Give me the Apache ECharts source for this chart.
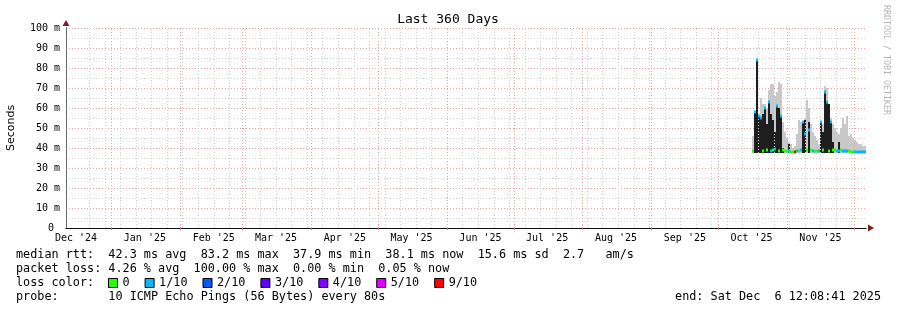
<!DOCTYPE html>
<html><head><meta charset="utf-8">
<script src="https://cdn.jsdelivr.net/npm/echarts@6/dist/echarts.min.js"></script>
<style>html,body{margin:0;padding:0;background:#fff}#c{width:897px;height:310px}</style>
</head><body><div id="c"></div>
<script>
// ---- time range of the graph ----
const rangeStart = Date.UTC(2024, 11, 11, 12, 8, 41);
const rangeEnd = Date.UTC(2025, 11, 6, 12, 8, 41);

// ---- x axis: month tick labels (centred mid-month) ----
const tickLabels = ["Dec '24", "Jan '25", "Feb '25", "Mar '25", "Apr '25", "May '25", "Jun '25", "Jul '25", "Aug '25", "Sep '25", "Oct '25", "Nov '25"];
const tickLabelDates = ['2024-12-16', '2025-01-16', '2025-02-16', '2025-03-16', '2025-04-16', '2025-05-16', '2025-06-16', '2025-07-16', '2025-08-16', '2025-09-16', '2025-10-16', '2025-11-16'];
const monthStarts = ['2025-01-01', '2025-02-01', '2025-03-01', '2025-04-01', '2025-05-01', '2025-06-01', '2025-07-01', '2025-08-01', '2025-09-01', '2025-10-01', '2025-11-01', '2025-12-01'];
const firstWeekLine = '2024-12-22';

// ---- y axis ----
const yTicks = [0, 10, 20, 30, 40, 50, 60, 70, 80, 90, 100]; // ms

// ---- samples (one every 21.6 h from mid October 2025) ----
const firstSampleTime = Date.UTC(2025, 9, 16, 5, 0, 0);
const sampleStepHours = 21.6;
const smokeBase = 37.6; // ms, bottom of the smoke
const smokeTop = [46, 47, 50, 52, 65, 62, 62, 60, 69, 72, 72, 66, 68, 73, 72, 53, 48, 45, 43, 42,
  40, 41, 47, 54, 53, 50, 55, 64, 60, 52, 48, 46, 44, 42, 44, 52, 71, 70, 60, 55,
  52, 50, 48, 47, 50, 55, 52, 56, 46, 47, 45, 44, 43, 42, 42, 41, 41, 40];
const darkTop = [null, 58, 84, 56, 55, 57, 60, 52, 63, 57, 54, 48, 61, 60, 56, 40, null, null, 42, null,
  null, null, null, null, null, 53, 54, null, 53, null, null, null, null, null, 53, 48, 68, 63, 62, 53,
  43, null, null, 43, null, null, null, null, null, null, null, null, null, null, null, null, null, null];
const medianRtt = [38.5, 58, 84, 56, 55, 38.5, 60, 39, 63, 38.5, 39, 39.5, 61, 38.5, 56, 39, 38.5, 38.5, 38.5, 38,
  38, 38, 38.5, 38.5, 39, 53, 47, 39, 49, 39, 38.5, 38.5, 38.5, 38.5, 53, 39, 68, 63, 38.5, 53,
  39, 39, 38.5, 38.5, 39, 38.5, 38.5, 38.5, 38.5, 38, 38, 38, 38, 38, 38, 38, 38, 38];
const lossLevel = [0, 1, 1, 1, 1, 0, 1, 0, 1, 1, 0, 1, 1, 0, 1, 0, 0, 0, 1, 0,
  0, 6, 1, 0, 1, 1, 1, 0, 1, 0, 1, 0, 0, 1, 1, 0, 1, 1, 0, 1,
  0, 0, 1, 1, 0, 1, 1, 1, 0, 0, 0, 1, 1, 1, 1, 1, 1, 1];

const lossNames = ['0', '1/10', '2/10', '3/10', '4/10', '5/10', '9/10'];
const lossColors = ['#26ff00', '#00b8ff', '#0059ff', '#5e00ff', '#7e00ff', '#dd00ff', '#ff0000'];

// ---- legend texts ----
const legendLines = [
  'median rtt:  42.3 ms avg  83.2 ms max  37.9 ms min  38.1 ms now  15.6 ms sd  2.7   am/s',
  'packet loss: 4.26 % avg  100.00 % max  0.00 % min  0.05 % now',
  'loss color:',
  'probe:       10 ICMP Echo Pings (56 Bytes) every 80s'
];
const endText = 'end: Sat Dec  6 12:08:41 2025';
const titleText = 'Last 360 Days';
const watermark = 'RRDTOOL / TOBI OETIKER';

// ------------------------------------------------------------
const DAY = 86400000;
const stepMs = sampleStepHours * 3600000;
const MONO = '"DejaVu Sans Mono", monospace';
const toT = s => Date.parse(s + 'T00:00:00Z');
const times = smokeTop.map((_, i) => firstSampleTime + i * stepMs);
const labelTimes = tickLabelDates.map(toT);

const weekLines = [];
for (let t = toT(firstWeekLine); t < rangeEnd; t += 7 * DAY) weekLines.push(t);

function bandRender(color) {
  return function (params, api) {
    const t = api.value(0), lo = api.value(1), hi = api.value(2);
    const a = api.coord([t, hi]);
    const b = api.coord([t + stepMs, lo]);
    const x0 = Math.round(a[0]), x1 = Math.round(b[0]);
    const y0 = Math.round(a[1]), y1 = Math.round(b[1]);
    return { type: 'rect', shape: { x: x0, y: y0, width: Math.max(1, x1 - x0), height: y1 - y0 }, style: { fill: color } };
  };
}
function medRender(color) {
  return function (params, api) {
    const t = api.value(0), m = api.value(1);
    const a = api.coord([t, m]);
    const b = api.coord([t + stepMs, m]);
    const x0 = Math.round(a[0]), x1 = Math.round(b[0]);
    return { type: 'rect', shape: { x: x0, y: Math.round(a[1]) - 1.5, width: Math.max(1, x1 - x0), height: 3 }, style: { fill: color } };
  };
}

const smokeData = times.map((t, i) => [t, smokeBase, smokeTop[i]]);
const darkData = [];
times.forEach((t, i) => { if (darkTop[i] != null) darkData.push([t, smokeBase, darkTop[i]]); });

const medianSeries = lossNames.map((name, k) => ({
  name: name, type: 'custom', z: 5, clip: true,
  itemStyle: { color: lossColors[k] },
  encode: { x: 0, y: 1 },
  renderItem: medRender(lossColors[k]),
  data: times.map((t, i) => lossLevel[i] === k ? [t, medianRtt[i]] : null).filter(d => d)
}));

const option = {
  backgroundColor: '#ffffff',
  animation: false,
  grid: { left: 66, top: 28, width: 800, height: 200, containLabel: false, outerBoundsMode: 'none' },
  xAxis: [{
    type: 'value', min: rangeStart, max: rangeEnd, z: 1,
    splitLine: { show: false },
    axisLine: { show: true, lineStyle: { color: '#111', width: 1 } },
    axisTick: { show: true, customValues: monthStarts.map(toT), length: 2, lineStyle: { color: '#d07070' } },
    axisLabel: {
      customValues: labelTimes, margin: 5,
      fontFamily: MONO, fontSize: 10, color: '#000',
      formatter: v => tickLabels[labelTimes.indexOf(v)] || ''
    }
  }, {
    type: 'value', min: rangeStart, max: rangeEnd, z: 0, position: 'bottom',
    splitLine: { show: false }, axisTick: { show: false }, axisLabel: { show: false },
    axisLine: { show: true, symbol: ['none', 'triangle'], symbolSize: [7, 6], symbolOffset: [0, 5], lineStyle: { color: '#7f1f1f' } }
  }],
  yAxis: [{
    type: 'value', min: 0, max: 100, interval: 10, z: 1,
    name: 'Seconds', nameLocation: 'middle', nameRotate: 90, nameGap: 49,
    nameTextStyle: { fontFamily: '"DejaVu Sans", sans-serif', fontSize: 11, color: '#000' },
    axisLine: { show: true, lineStyle: { color: '#666' } },
    axisTick: { show: false },
    axisLabel: { margin: 6, fontFamily: MONO, fontSize: 10, color: '#000', formatter: v => v === 0 ? '0 ' : v + ' m' },
    splitLine: { show: true, lineStyle: { color: '#e8a2a2', type: [1, 2], width: 1 } }
  }, {
    type: 'value', min: 0, max: 100, interval: 5, z: 0, position: 'left',
    axisLabel: { show: false }, axisTick: { show: false },
    axisLine: { show: true, symbol: ['none', 'triangle'], symbolSize: [7, 6], symbolOffset: [0, 5], lineStyle: { color: '#7f1f1f' } },
    splitLine: { show: true, lineStyle: { color: '#cfcfcf', type: [1, 2], width: 1 } }
  }],
  legend: {
    data: lossNames, left: 108, top: 276, padding: 0,
    itemWidth: 9, itemHeight: 9, itemGap: 15, icon: 'rect', selectedMode: false,
    itemStyle: { borderColor: '#000', borderWidth: 1 },
    textStyle: { fontFamily: MONO, fontSize: 11.8, color: '#000', lineHeight: 14 }
  },
  graphic: [
    { type: 'text', x: 448, y: 20, style: { text: titleText, font: '13px ' + MONO, fill: '#000', textAlign: 'center', textVerticalAlign: 'middle', align: 'center', verticalAlign: 'middle' } },
    { type: 'text', x: 886, y: 60, rotation: -Math.PI / 2, style: { text: watermark, font: '8.3px ' + MONO, fill: '#b4b4b4', textAlign: 'center', textVerticalAlign: 'middle', align: 'center', verticalAlign: 'middle' } },
    ...legendLines.map((s, i) => ({ type: 'text', x: 16, y: 255 + 14 * i, style: { text: s, font: '11.8px ' + MONO, fill: '#000', textAlign: 'left', textVerticalAlign: 'middle', align: 'left', verticalAlign: 'middle' } })),
    { type: 'text', x: 881, y: 297, style: { text: endText, font: '11.8px ' + MONO, fill: '#000', textAlign: 'right', textVerticalAlign: 'middle', align: 'right', verticalAlign: 'middle' } }
  ],
  series: [
    {
      name: 'grid', type: 'line', data: [], z: 1, silent: true,
      markLine: {
        silent: true, symbol: 'none', animation: false, label: { show: false },
        data: weekLines.map(t => ({ xAxis: t, lineStyle: { color: '#cfcfcf', type: [1, 2], width: 1 } }))
          .concat(monthStarts.map(s => ({ xAxis: toT(s), lineStyle: { color: '#e8a2a2', type: [1, 2], width: 1 } })))
      }
    },
    { name: 'smoke', type: 'custom', z: 3, clip: true, itemStyle: { color: '#c8c8c8' }, encode: { x: 0, y: [1, 2] }, renderItem: bandRender('#c8c8c8'), data: smokeData },
    { name: 'dark', type: 'custom', z: 4, clip: true, itemStyle: { color: '#1e1e1e' }, encode: { x: 0, y: [1, 2] }, renderItem: bandRender('#1e1e1e'), data: darkData },
    ...medianSeries
  ]
};

const chart = echarts.init(document.getElementById('c'), null, { renderer: 'canvas', width: 897, height: 310 });
chart.setOption(option);
</script>
</body></html>
